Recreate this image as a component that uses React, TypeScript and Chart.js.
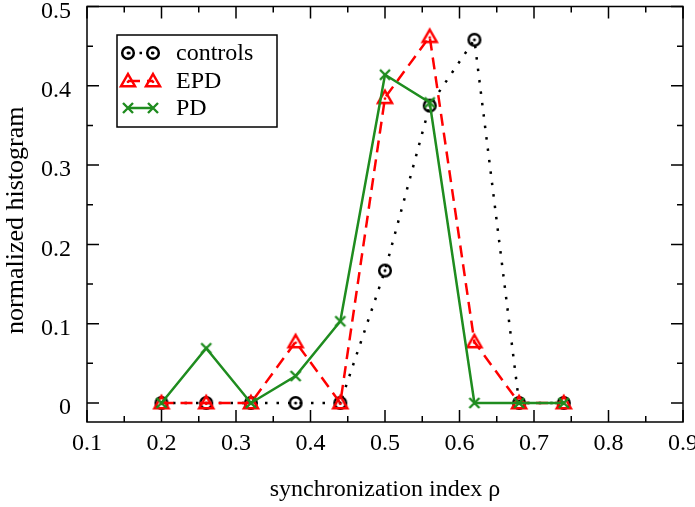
import React, { useEffect, useRef } from 'react';
import { Chart, registerables } from 'chart.js';

Chart.register(...registerables);

// ---------- data ----------
const xValues = [0.2, 0.26, 0.32, 0.38, 0.44, 0.5, 0.56, 0.62, 0.68, 0.74];
const controlsValues = [0, 0, 0, 0, 0, 0.167, 0.375, 0.458, 0, 0];
const epdValues = [0, 0, 0, 0.077, 0, 0.385, 0.462, 0.077, 0, 0];
const pdValues = [0, 0.069, 0, 0.034, 0.103, 0.414, 0.379, 0, 0, 0];

const xTickValues = [0.1, 0.2, 0.3, 0.4, 0.5, 0.6, 0.7, 0.8, 0.9];
const xTickLabels = ['0.1', '0.2', '0.3', '0.4', '0.5', '0.6', '0.7', '0.8', '0.9'];
const yTickValues = [0, 0.1, 0.2, 0.3, 0.4, 0.5];
const yTickLabels = ['0', '0.1', '0.2', '0.3', '0.4', '0.5'];

const seriesLabels = ['controls', 'EPD', 'PD'];
const xTitle = 'synchronization index ρ';
const yTitle = 'normalized histogram';

const FONT = '"Liberation Serif", "DejaVu Serif", serif';
const GREEN = '#1f8c1f';
const RED = '#ff0000';

function makeMarker(kind: string): HTMLCanvasElement {
  const c = document.createElement('canvas');
  const s = 20;
  c.width = s;
  c.height = s;
  const g = c.getContext('2d')!;
  const m = s / 2;
  if (kind === 'circle') {
    g.strokeStyle = '#000';
    g.lineWidth = 2.5;
    g.beginPath();
    g.arc(m, m, 5.8, 0, Math.PI * 2);
    g.stroke();
    g.fillStyle = '#000';
    g.beginPath();
    g.arc(m, m, 1.5, 0, Math.PI * 2);
    g.fill();
  } else if (kind === 'triangle') {
    g.strokeStyle = RED;
    g.lineWidth = 2.5;
    g.lineJoin = 'miter';
    g.beginPath();
    g.moveTo(m, m - 7);
    g.lineTo(m + 7, m + 5.2);
    g.lineTo(m - 7, m + 5.2);
    g.closePath();
    g.stroke();
    g.fillStyle = RED;
    g.beginPath();
    g.arc(m, m + 0.8, 1.4, 0, Math.PI * 2);
    g.fill();
  } else {
    g.strokeStyle = GREEN;
    g.lineWidth = 2.4;
    const h = 5;
    g.beginPath();
    g.moveTo(m - h, m - h);
    g.lineTo(m + h, m + h);
    g.moveTo(m + h, m - h);
    g.lineTo(m - h, m + h);
    g.stroke();
  }
  return c;
}

function drawText(ctx: CanvasRenderingContext2D, text: string, x: number, y: number, align: CanvasTextAlign) {
  ctx.save();
  ctx.translate(x, y);
  ctx.textAlign = align;
  ctx.fillText(text, 0, 0);
  ctx.restore();
}

const frameAndLegendPlugin = {
  id: 'gnuFrame',
  beforeDatasetsDraw(chart: any) {
    const { ctx, chartArea: a } = chart;
    const xs = chart.scales.x;
    const ys = chart.scales.y;
    ctx.save();
    ctx.strokeStyle = '#000';
    ctx.lineWidth = 1.5;
    ctx.strokeRect(a.left, a.top, a.right - a.left, a.bottom - a.top);

    const major = 12;
    const minor = 6;
    ctx.beginPath();
    xTickValues.forEach((v, i) => {
      const px = xs.getPixelForValue(v);
      ctx.moveTo(px, a.bottom);
      ctx.lineTo(px, a.bottom - major);
      ctx.moveTo(px, a.top);
      ctx.lineTo(px, a.top + major);
      if (i < xTickValues.length - 1) {
        const pm = xs.getPixelForValue((v + xTickValues[i + 1]) / 2);
        ctx.moveTo(pm, a.bottom);
        ctx.lineTo(pm, a.bottom - minor);
        ctx.moveTo(pm, a.top);
        ctx.lineTo(pm, a.top + minor);
      }
    });
    yTickValues.forEach((v, i) => {
      const py = ys.getPixelForValue(v);
      ctx.moveTo(a.left, py);
      ctx.lineTo(a.left + major, py);
      ctx.moveTo(a.right, py);
      ctx.lineTo(a.right - major, py);
      if (i < yTickValues.length - 1) {
        const pm = ys.getPixelForValue((v + yTickValues[i + 1]) / 2);
        ctx.moveTo(a.left, pm);
        ctx.lineTo(a.left + minor, pm);
        ctx.moveTo(a.right, pm);
        ctx.lineTo(a.right - minor, pm);
      }
    });
    ctx.stroke();

    ctx.fillStyle = '#000';
    ctx.font = `24px ${FONT}`;
    ctx.textBaseline = 'middle';
    xTickValues.forEach((v, i) => {
      drawText(ctx, xTickLabels[i], xs.getPixelForValue(v), a.bottom + 22, 'center');
    });
    yTickValues.forEach((v, i) => {
      drawText(ctx, yTickLabels[i], a.left - 16, ys.getPixelForValue(v) + 5, 'right');
    });

    drawText(ctx, xTitle, (a.left + a.right) / 2, a.bottom + 68, 'center');
    ctx.save();
    ctx.font = `26px ${FONT}`;
    ctx.translate(16, (a.top + a.bottom) / 2 + 6);
    ctx.rotate(-Math.PI / 2);
    ctx.textAlign = 'center';
    ctx.fillText(yTitle, 0, 0);
    ctx.restore();
    ctx.restore();
  },
  afterDraw(chart: any) {
    const { ctx } = chart;
    ctx.save();
    const bx = 117, by = 35, bw = 160, bh = 92;
    ctx.strokeStyle = '#000';
    ctx.lineWidth = 1.5;
    ctx.strokeRect(bx, by, bw, bh);
    const rowY = [53, 81, 108];
    chart.data.datasets.forEach((ds: any, i: number) => {
      const y = rowY[i];
      const x1 = 128, x2 = 153;
      ctx.save();
      ctx.strokeStyle = ds.borderColor;
      ctx.lineWidth = ds.borderWidth;
      ctx.setLineDash(ds.borderDash || []);
      ctx.beginPath();
      ctx.moveTo(x1, y);
      ctx.lineTo(x2, y);
      ctx.stroke();
      ctx.restore();
      const img = ds.pointStyle as HTMLCanvasElement;
      ctx.drawImage(img, x1 - img.width / 2, y - img.height / 2);
      ctx.drawImage(img, x2 - img.width / 2, y - img.height / 2);
      ctx.fillStyle = '#000';
      ctx.font = `24px ${FONT}`;
      ctx.textBaseline = 'middle';
      drawText(ctx, ds.label, 176, y + 1, 'left');
    });
    ctx.restore();
  },
};

export default function App() {
  const ref = useRef<HTMLCanvasElement>(null);
  useEffect(() => {
    document.body.style.margin = '0';
    const circle = makeMarker('circle');
    const tri = makeMarker('triangle');
    const cross = makeMarker('cross');
    const toPts = (vals: number[]) => vals.map((v, i) => ({ x: xValues[i], y: v }));
    const chart = new Chart(ref.current!, {
      type: 'line',
      data: {
        datasets: [
          {
            label: seriesLabels[0],
            data: toPts(controlsValues),
            borderColor: '#000',
            borderWidth: 2.5,
            borderDash: [2.5, 9],
            pointStyle: circle,
            order: 3,
            tension: 0,
          },
          {
            label: seriesLabels[1],
            data: toPts(epdValues),
            borderColor: RED,
            borderWidth: 2.5,
            borderDash: [12, 7],
            pointStyle: tri,
            order: 2,
            tension: 0,
          },
          {
            label: seriesLabels[2],
            data: toPts(pdValues),
            borderColor: GREEN,
            borderWidth: 2.5,
            pointStyle: cross,
            order: 1,
            tension: 0,
          },
        ] as any,
      },
      options: {
        responsive: false,
        animation: false,
        layout: { padding: { left: 87, right: 12, top: 5, bottom: 85 } },
        plugins: { legend: { display: false }, tooltip: { enabled: false } },
        scales: {
          x: { type: 'linear', min: 0.1, max: 0.9, display: false },
          y: { type: 'linear', min: -0.024, max: 0.5, display: false },
        },
      },
      plugins: [frameAndLegendPlugin],
    });
    return () => chart.destroy();
  }, []);
  return (
    <div style={{ position: 'fixed', left: 0, top: 0, width: 695, height: 507, background: '#fff' }}>
      <canvas ref={ref} width={695} height={507} />
    </div>
  );
}
